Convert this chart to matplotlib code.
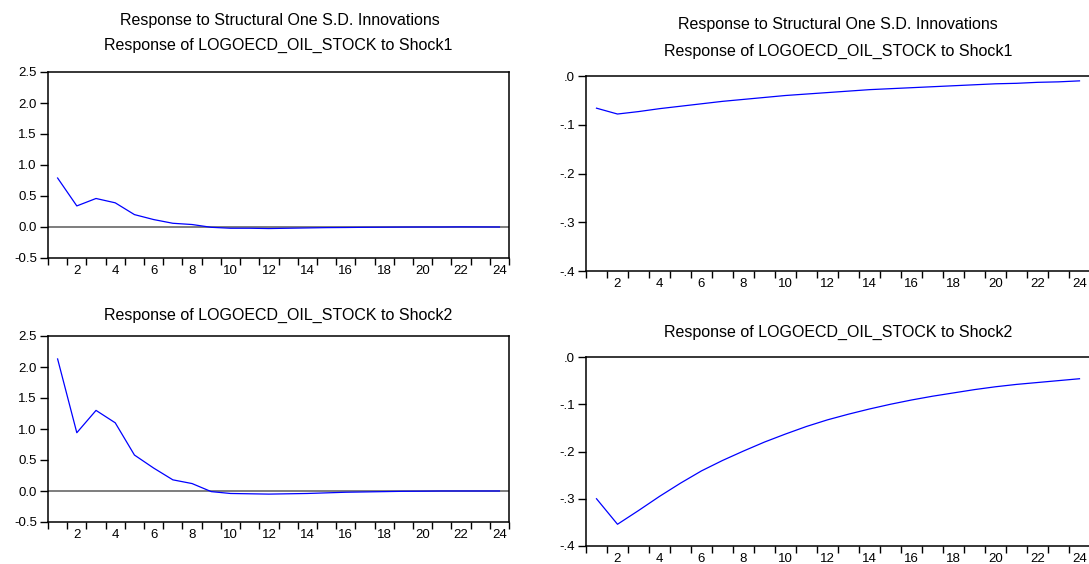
import matplotlib
matplotlib.use("Agg")
import matplotlib.pyplot as plt
from matplotlib.ticker import FixedLocator, FuncFormatter

plt.rcParams["font.family"] = ["Liberation Sans", "DejaVu Sans"]

periods = list(range(1, 25))

# left block (levels)
left_shock1 = [0.79, 0.34, 0.46, 0.39, 0.20, 0.12, 0.06, 0.04, -0.005, -0.02,
               -0.02, -0.025, -0.02, -0.015, -0.01, -0.008, -0.005, -0.003,
               -0.001, 0.0, 0.0, 0.002, 0.001, 0.0]
left_shock2 = [2.13, 0.94, 1.30, 1.10, 0.58, 0.37, 0.18, 0.12, -0.01, -0.04,
               -0.045, -0.05, -0.045, -0.04, -0.03, -0.02, -0.015, -0.01,
               -0.005, -0.003, 0.0, 0.0, 0.0, 0.0]

# right block
right_shock1 = [-0.066, -0.078, -0.073, -0.067, -0.062, -0.057, -0.052, -0.048,
                -0.044, -0.040, -0.037, -0.034, -0.031, -0.028, -0.026, -0.024,
                -0.022, -0.020, -0.018, -0.016, -0.015, -0.013, -0.012, -0.010]
right_shock2 = [-0.300, -0.354, -0.325, -0.295, -0.267, -0.241, -0.219, -0.199,
                -0.180, -0.163, -0.147, -0.133, -0.121, -0.110, -0.100, -0.091,
                -0.083, -0.076, -0.069, -0.063, -0.058, -0.054, -0.050, -0.046]

main_title = "Response to Structural One S.D. Innovations"
sub1 = "Response of LOGOECD_OIL_STOCK to Shock1"
sub2 = "Response of LOGOECD_OIL_STOCK to Shock2"

W, H = 1089, 564
fig = plt.figure(figsize=(W / 100, H / 100), dpi=100)


def px_axes(x0, y0, x1, y1):
    return fig.add_axes([x0 / W, 1 - y1 / H, (x1 - x0) / W, (y1 - y0) / H])


def style(ax, values, ylim, yticks, fmt, zero_line):
    if zero_line:
        ax.axhline(0, color="#5a5a5a", lw=1.1, zorder=1)
    ax.plot(periods, values, color="#0000ff", lw=0.9, zorder=2)
    ax.set_xlim(0.5, 24.5)
    ax.set_ylim(*ylim)
    ax.xaxis.set_major_locator(FixedLocator(range(2, 25, 2)))
    ax.xaxis.set_minor_locator(FixedLocator([i + 0.5 for i in range(0, 25)]))
    ax.tick_params(axis="x", which="major", length=0, labelsize=9.5, pad=5)
    ax.tick_params(axis="x", which="minor", length=5, width=1.0, direction="out")
    ax.set_yticks(yticks)
    ax.yaxis.set_major_formatter(FuncFormatter(fmt))
    ax.tick_params(axis="y", length=6, width=1.0, labelsize=9.5, pad=2)
    for s in ax.spines.values():
        s.set_linewidth(1.1)


def lvl(v, pos):
    return f"{v:.1f}"


def dot(v, pos):
    s = f"{v:.1f}"
    return s.replace("0.", ".").replace("-.0", ".0")


ax1 = px_axes(48, 72, 509, 258)
style(ax1, left_shock1, (-0.5, 2.5), [-0.5, 0, 0.5, 1, 1.5, 2, 2.5], lvl, True)
ax2 = px_axes(48, 336, 509, 522)
style(ax2, left_shock2, (-0.5, 2.5), [-0.5, 0, 0.5, 1, 1.5, 2, 2.5], lvl, True)
ax3 = px_axes(586, 76, 1090, 271)
style(ax3, right_shock1, (-0.4, 0.0), [-0.4, -0.3, -0.2, -0.1, 0.0], dot, False)
ax4 = px_axes(586, 357, 1090, 546)
style(ax4, right_shock2, (-0.4, 0.0), [-0.4, -0.3, -0.2, -0.1, 0.0], dot, False)

fig.text(280 / W, 1 - 21 / H, main_title, ha="center", va="center", fontsize=11.5)
fig.text(278 / W, 1 - 45 / H, sub1, ha="center", va="center", fontsize=11.5)
fig.text(278 / W, 1 - 315 / H, sub2, ha="center", va="center", fontsize=11.5)
fig.text(838 / W, 1 - 24 / H, main_title, ha="center", va="center", fontsize=11.5)
fig.text(838 / W, 1 - 51 / H, sub1, ha="center", va="center", fontsize=11.5)
fig.text(838 / W, 1 - 332 / H, sub2, ha="center", va="center", fontsize=11.5)

fig.savefig("out.png", dpi=100)
